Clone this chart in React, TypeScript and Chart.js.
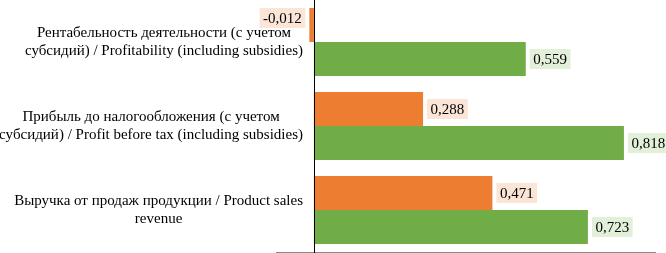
import React, { useEffect, useRef } from "react";
import { Chart, registerables } from "chart.js";

Chart.register(...registerables);

const categories: string[][] = [
  ["Рентабельность деятельности (с учетом", "субсидий) / Profitability (including subsidies)"],
  ["Прибыль до налогообложения (с учетом", "субсидий) / Profit before tax (including subsidies)"],
  ["Выручка от продаж продукции / Product sales", "revenue"],
];
const seriesOrange: number[] = [-0.012, 0.288, 0.471];
const seriesGreen: number[] = [0.559, 0.818, 0.723];
const xMin = -0.1;
const xMax = 0.9;

const ORANGE = "#ED7D31";
const GREEN = "#70AD47";
const ORANGE_LIGHT = "#FBE5D6";
const GREEN_LIGHT = "#E2F0D9";
const FONT = "15px 'Liberation Serif', 'Times New Roman', serif";

const fmt = (v: number) => v.toFixed(3).replace(".", ",");

const decorPlugin = {
  id: "decor",
  afterDatasetsDraw(chart: any) {
    const ctx = chart.ctx as CanvasRenderingContext2D;
    const xs = chart.scales.x;
    const ys = chart.scales.y;
    const area = chart.chartArea;
    ctx.save();
    // zero line
    const x0 = Math.round(xs.getPixelForValue(0)) + 0.5;
    ctx.strokeStyle = "#000";
    ctx.lineWidth = 1;
    ctx.beginPath();
    ctx.moveTo(x0, 0);
    ctx.lineTo(x0, chart.height);
    ctx.stroke();

    // category labels
    ctx.font = FONT;
    ctx.fillStyle = "#000";
    ctx.textBaseline = "middle";
    ctx.textAlign = "center";
    const rightEdge = area.left + 27;
    const lineH = 18;
    categories.forEach((lines, i) => {
      const cy = ys.getPixelForValue(i);
      const widest = Math.max(...lines.map((l) => ctx.measureText(l).width));
      const cx = rightEdge - widest / 2;
      const startY = cy - ((lines.length - 1) * lineH) / 2;
      lines.forEach((l, j) => ctx.fillText(l, cx, startY + j * lineH));
    });

    // data labels
    const lightColors = [ORANGE_LIGHT, GREEN_LIGHT];
    chart.data.datasets.forEach((ds: any, di: number) => {
      const meta = chart.getDatasetMeta(di);
      meta.data.forEach((bar: any, i: number) => {
        const v = ds.data[i] as number;
        const text = fmt(v);
        const tw = ctx.measureText(text).width;
        const bw = tw + 7;
        const bh = 20;
        let bx: number;
        let by: number;
        if (v >= 0) {
          bx = bar.x + 4;
          by = bar.y - bh / 2;
        } else {
          bx = bar.x - 4 - bw;
          by = bar.y - bar.height / 2;
        }
        ctx.fillStyle = lightColors[di];
        ctx.fillRect(bx, by, bw, bh);
        ctx.fillStyle = "#000";
        ctx.textAlign = "center";
        ctx.textBaseline = "middle";
        ctx.fillText(text, bx + bw / 2, by + bh / 2 + 1);
      });
    });
    ctx.restore();
  },
};

export default function App() {
  const ref = useRef<HTMLCanvasElement>(null);
  useEffect(() => {
    if (!ref.current) return;
    const chart = new Chart(ref.current, {
      type: "bar",
      data: {
        labels: categories.map((c) => c.join(" ")),
        datasets: [
          { data: seriesOrange, backgroundColor: ORANGE, borderWidth: 0 },
          { data: seriesGreen, backgroundColor: GREEN, borderWidth: 0 },
        ],
      },
      options: {
        indexAxis: "y",
        responsive: false,
        animation: false,
        devicePixelRatio: 1,
        layout: { padding: { left: 276, right: 11, top: 0, bottom: 1 } },
        categoryPercentage: 0.81,
        barPercentage: 1,
        plugins: { legend: { display: false }, tooltip: { enabled: false } },
        scales: {
          x: {
            min: xMin,
            max: xMax,
            display: true,
            ticks: { display: false },
            grid: { display: false, drawTicks: false },
            border: { display: true, color: "#898989", width: 1 },
          },
          y: { display: false, offset: true },
        },
      } as any,
      plugins: [decorPlugin],
    });
    return () => chart.destroy();
  }, []);
  return (
    <canvas
      ref={ref}
      width={666}
      height={253}
      style={{ position: "fixed", left: 0, top: 0, width: 666, height: 253 }}
    />
  );
}
